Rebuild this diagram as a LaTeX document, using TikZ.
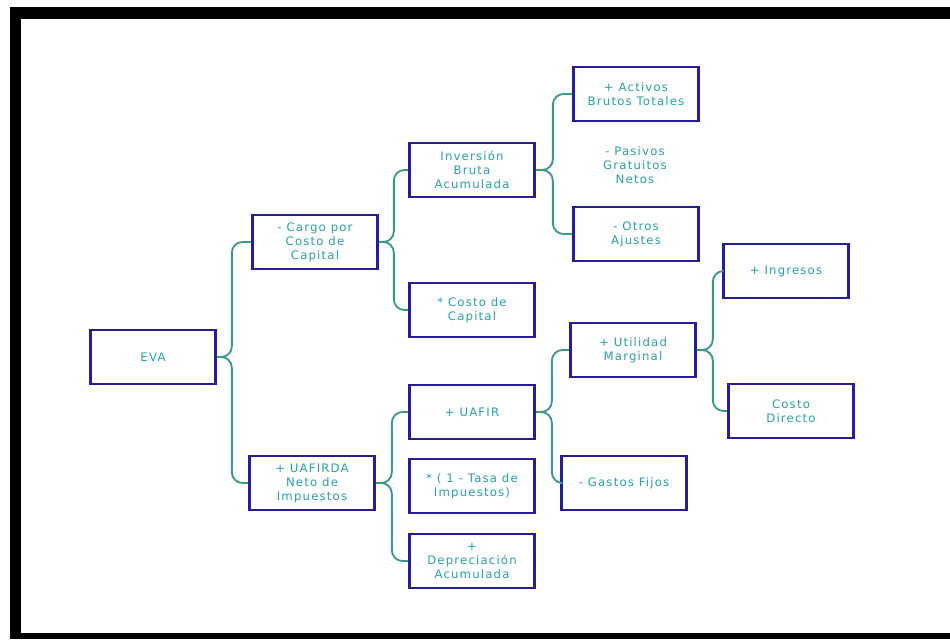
\documentclass[tikz,border=0pt]{standalone}
\usepackage{fontspec}
\setmainfont[LetterSpace=10]{DejaVu Sans}
\usepackage{tikz}
\usetikzlibrary{positioning}
\definecolor{bordo}{RGB}{38,30,150}
\definecolor{testo}{RGB}{40,160,170}
\definecolor{ramo}{RGB}{60,150,140}

\begin{document}
\begin{tikzpicture}[x=0.3mm, y=-0.3mm,
    every node/.style={rectangle, draw=bordo, line width=0.8mm, text=testo, align=center,
      minimum width=3.75cm, minimum height=1.62cm, font=\fontsize{10}{12}\selectfont},
    ramo/.style={draw=ramo, line width=0.55mm, rounded corners=3.2mm}]
      \useasboundingbox (0,0) rectangle (950,639);

      % Cornice
      \fill (10,7) rectangle (21,639);
      \fill (10,7) rectangle (950,19);
      \fill (10,633) rectangle (950,639);

      % Radice
      \node (EVA) at (153,357) {EVA};

      % Secondo livello
      \node (cargo) at (315,242) {- Cargo por\\Costo de\\Capital};
      \node (uafirda) at (312,483) {+ UAFIRDA\\Neto de\\Impuestos};

      % Terzo livello
      \node (inversion) at (472,170) {Inversión\\Bruta\\Acumulada};
      \node (costocap) at (472,310) {* Costo de\\Capital};
      \node (uafir) at (472,412) {+ UAFIR};
      \node (tasa) at (472,486) {* ( 1 - Tasa de\\Impuestos)};
      \node (deprec) at (472,561) {+\\Depreciación\\Acumulada};

      % Quarto livello
      \node (activos) at (636,94) {+ Activos\\Brutos Totales};
      \node (pasivos) at (635,165) [draw=none] {- Pasivos\\Gratuitos\\Netos};
      \node (otros) at (636,234) {- Otros\\Ajustes};
      \node (utilidad) at (633,350) {+ Utilidad\\Marginal};
      \node (gastos) at (624,483) {- Gastos Fijos};

      % Quinto livello
      \node (ingresos) at (786,271) {+ Ingresos};
      \node (costodir) at (791,411) {Costo\\Directo};

      % Collegamenti
      \draw[ramo] (EVA.east) -- ++(15,0) |- (cargo.west);
      \draw[ramo] (EVA.east) -- ++(15,0) |- (uafirda.west);
      \draw[ramo] (cargo.east) -- ++(15,0) |- (inversion.west);
      \draw[ramo] (cargo.east) -- ++(15,0) |- (costocap.west);
      \draw[ramo] (inversion.east) -- ++(17,0) |- (activos.west);
      \draw[ramo] (inversion.east) -- ++(17,0) |- (otros.west);
      \draw[ramo] (uafirda.east) -- ++(16,0) |- (uafir.west);
      \draw[ramo] (uafirda.east) -- ++(16,0) |- (deprec.west);
      \draw[ramo] (uafir.east) -- ++(16,0) |- (utilidad.west);
      \draw[ramo] (uafir.east) -- ++(16,0) |- (gastos.west);
      \draw[ramo] (utilidad.east) -- ++(16,0) |- (ingresos.west);
      \draw[ramo] (utilidad.east) -- ++(16,0) |- (costodir.west);
    \end{tikzpicture}
\end{document}
